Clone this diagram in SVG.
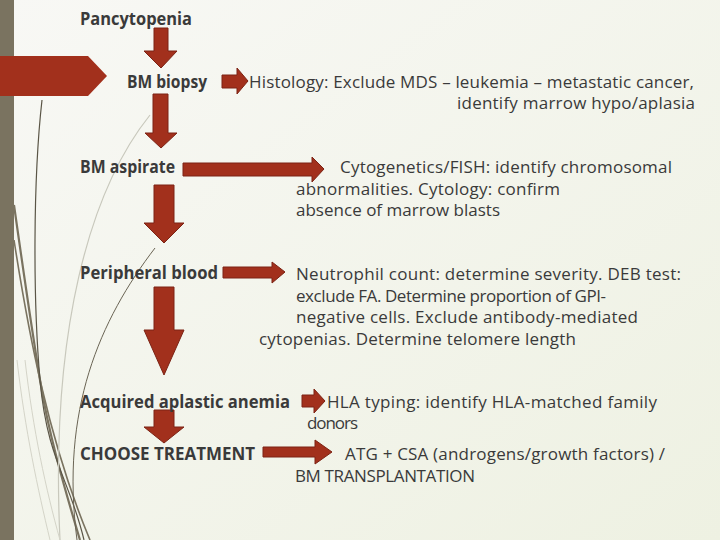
<svg xmlns="http://www.w3.org/2000/svg" width="720" height="540" viewBox="0 0 720 540">
<defs>
<linearGradient id="bg" x1="0" y1="0" x2="1" y2="1">
<stop offset="0" stop-color="#f8f8f5"/>
<stop offset="1" stop-color="#eef1e2"/>
</linearGradient>
<style>
.t{font-family:"Open Sans","Liberation Sans",sans-serif;font-size:17px;fill:#3a3a3a}
.b{font-weight:bold}
.arr{fill:#a2301c;stroke:#7c2314;stroke-width:1}
.deco{fill:none}
</style>
</defs>
<rect width="720" height="540" fill="url(#bg)"/>
<g id="decoration">
<path class="deco" d="M14 205 C 26 290, 32 330, 40 380 S 62 480, 80 540" stroke="#7a7360" stroke-width="2.2"/>
<path class="deco" d="M14 240 C 28 330, 48 440, 90 540" stroke="#7a7360" stroke-width="1.6"/>
<path class="deco" d="M42 100 C 33 180, 33 300, 40 380 S 70 480, 84 540" stroke="#5a5546" stroke-width="1.2"/>
<path class="deco" d="M150 115 C 90 190, 50 330, 60 540" stroke="#c8c8bc" stroke-width="1.2"/>
<path class="deco" d="M17 360 C 25 430, 38 490, 50 540" stroke="#d4d4c8" stroke-width="1"/>
<path class="deco" d="M25 360 C 33 430, 46 490, 60 540" stroke="#d4d4c8" stroke-width="1"/>
<path class="deco" d="M155 248 C 100 320, 60 410, 77 540" stroke="#6a6454" stroke-width="1"/>
<rect x="0" y="0" width="14" height="540" fill="#7a7360"/>
<polygon points="0,56 88,56 107,76 88,96 0,96" fill="#a2301c"/>
</g>
<g id="connectors">
<polygon class="arr" points="154,28 168,28 168,51 177,51 161,68 144,51 154,51"/>
<polygon class="arr" points="153,94 168,94 168,133 177,133 161,148 145,133 153,133"/>
<polygon class="arr" points="154,185 174,185 174,223 184,223 164,243 144,223 154,223"/>
<polygon class="arr" points="154,287 174,287 174,330 184,330 164,375 144,330 154,330"/>
<polygon class="arr" points="154,410 174,410 174,427 184,427 164,443 144,427 154,427"/>
<polygon class="arr" points="222,75 237,75 237,68 248,81 237,94 237,88 222,88"/>
<polygon class="arr" points="183,163 312,163 312,157 324,169 312,182 312,176 183,176"/>
<polygon class="arr" points="223,267 272,267 272,262 285,272 272,283 272,278 223,278"/>
<polygon class="arr" points="302,395 314,395 314,389 325,401 314,413 314,407 302,407"/>
<polygon class="arr" points="263,447 315,447 315,440 332,452 315,464 315,457 263,457"/>
</g>
<g id="n-pancytopenia"><text class="t b" x="80" y="25" textLength="112" lengthAdjust="spacingAndGlyphs">Pancytopenia</text></g>
<g id="n-bmbiopsy"><text class="t b" x="127" y="88" textLength="80" lengthAdjust="spacingAndGlyphs">BM biopsy</text></g>
<g id="n-histology">
<text class="t" x="249" y="88" textLength="445">Histology: Exclude MDS – leukemia – metastatic cancer,</text>
<text class="t" x="457" y="109" textLength="238">identify marrow hypo/aplasia</text>
</g>
<g id="n-bmaspirate"><text class="t b" x="80" y="173" textLength="95" lengthAdjust="spacingAndGlyphs">BM aspirate</text></g>
<g id="n-cytogenetics">
<text class="t" x="340" y="173" textLength="332">Cytogenetics/FISH: identify chromosomal</text>
<text class="t" x="296" y="195" textLength="264">abnormalities. Cytology: confirm</text>
<text class="t" x="296" y="216" textLength="204">absence of marrow blasts</text>
</g>
<g id="n-peripheral"><text class="t b" x="80" y="279" textLength="138" lengthAdjust="spacingAndGlyphs">Peripheral blood</text></g>
<g id="n-neutrophil">
<text class="t" x="296" y="280" textLength="385">Neutrophil count: determine severity. DEB test:</text>
<text class="t" x="296" y="302" textLength="310">exclude FA. Determine proportion of GPI-</text>
<text class="t" x="296" y="323" textLength="342">negative cells. Exclude antibody-mediated</text>
<text class="t" x="259" y="345" textLength="317">cytopenias. Determine telomere length</text>
</g>
<g id="n-acquired"><text class="t b" x="80" y="408" textLength="210" lengthAdjust="spacingAndGlyphs">Acquired aplastic anemia</text></g>
<g id="n-hla">
<text class="t" x="327" y="408" textLength="330">HLA typing: identify HLA-matched family</text>
<text class="t" x="307" y="429" textLength="51">donors</text>
</g>
<g id="n-treatment"><text class="t b" x="80" y="460" textLength="175" lengthAdjust="spacingAndGlyphs">CHOOSE TREATMENT</text></g>
<g id="n-atg">
<text class="t" x="345" y="460" textLength="320">ATG + CSA (androgens/growth factors) /</text>
<text class="t" x="295" y="482" textLength="180">BM TRANSPLANTATION</text>
</g>
</svg>
